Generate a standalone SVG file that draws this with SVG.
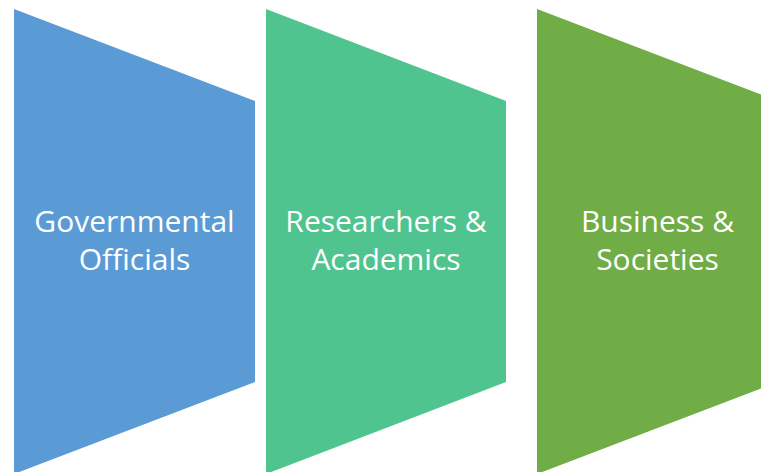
<svg xmlns="http://www.w3.org/2000/svg" width="761" height="472" viewBox="0 0 761 472">
<style>
.lbl{font-family:"Open Sans","Noto Sans",sans-serif;font-size:30px;fill:#ffffff;text-anchor:middle}
</style>
<rect width="761" height="472" fill="#ffffff"/>
<g id="node-gov">
<polygon points="14,9 255,101 255,382 14,474" fill="#5B9BD5"/>
<text class="lbl" x="134.5" y="232">Governmental</text>
<text class="lbl" x="134.5" y="270">Officials</text>
</g>
<g id="node-res">
<polygon points="266,9 506,101 506,382 266,474" fill="#4FC48E"/>
<text class="lbl" x="386" y="232">Researchers &amp;</text>
<text class="lbl" x="386" y="270">Academics</text>
</g>
<g id="node-bus">
<polygon points="537,9 778,101 778,382 537,474" fill="#70AD47"/>
<text class="lbl" x="657.5" y="232">Business &amp;</text>
<text class="lbl" x="657.5" y="270">Societies</text>
</g>
<g id="connectors"></g>
</svg>
